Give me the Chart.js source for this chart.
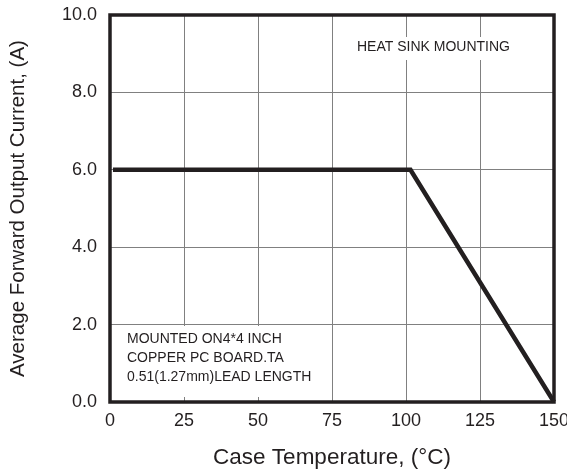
<!DOCTYPE html>
<html>
<head>
<meta charset="utf-8">
<script src="https://cdn.jsdelivr.net/npm/chart.js"></script>
<style>
  html,body{ margin:0; padding:0; background:#fff; }
  #wrap{ width:567px; height:473px; }
</style>
</head>
<body>
<div id="wrap"><canvas id="c" width="567" height="473"></canvas></div>
<script>
// derating curve, case temperature (°C) vs current (A)
const tempC = [1, 101.5, 150];
const currentA = [6, 6, 0];
const xTicks = [0, 25, 50, 75, 100, 125, 150];
const yTicks = [0, 2, 4, 6, 8, 10];
const noteTop = ['HEAT SINK MOUNTING'];
const noteBottom = ['MOUNTED ON4*4 INCH', 'COPPER PC BOARD.TA', '0.51(1.27mm)LEAD LENGTH'];

const ink = '#231f20';
const font = '"Liberation Sans", Arial, sans-serif';

// white boxes with notes, drawn over the grid
const notes = {
  id: 'notes',
  beforeDatasetsDraw(chart){
    const ctx = chart.ctx, a = chart.chartArea;
    ctx.save();
    ctx.fillStyle = '#fff';
    ctx.fillRect(350, 37, 172, 23);
    ctx.fillRect(a.left + 2, 326, 213, a.bottom - 326 - 5);
    ctx.fillStyle = ink;
    ctx.font = '14px ' + font;
    ctx.textBaseline = 'middle';
    ctx.fillText(noteTop[0], 357, 47);
    noteBottom.forEach((t, i) => ctx.fillText(t, 127, 339 + i * 19));
    ctx.restore();
  },
  afterDraw(chart){
    const ctx = chart.ctx, a = chart.chartArea;
    ctx.save();
    ctx.strokeStyle = ink;
    ctx.lineWidth = 3.5;
    ctx.strokeRect(a.left, a.top, a.right - a.left, a.bottom - a.top);
    ctx.restore();
  }
};

new Chart(document.getElementById('c'), {
  type: 'line',
  data: {
    datasets: [{
      data: tempC.map((t, i) => ({ x: t, y: currentA[i] })),
      borderColor: ink,
      borderWidth: 4.5,
      pointRadius: 0,
      tension: 0,
      clip: false
    }]
  },
  options: {
    responsive: false,
    animation: false,
    events: [],
    layout: { padding: { top: 15, right: 13, left: 0, bottom: 0 } },
    plugins: { legend: { display: false }, tooltip: { enabled: false } },
    scales: {
      x: {
        type: 'linear', min: 0, max: 150,
        afterBuildTicks: s => { s.ticks = xTicks.map(v => ({ value: v })); },
        afterFit: s => { s.height = 71; s.paddingLeft = 0; s.paddingRight = 0; },
        grid: { color: '#808080', lineWidth: 1, drawTicks: false },
        border: { display: false },
        ticks: { color: ink, font: { family: font, size: 18 }, padding: 8, maxRotation: 0 },
        title: { display: true, text: 'Case Temperature, (°C)', color: ink,
                 font: { family: font, size: 22.5 }, padding: { top: 4, bottom: 2 } }
      },
      y: {
        type: 'linear', min: 0, max: 10,
        afterBuildTicks: s => { s.ticks = yTicks.map(v => ({ value: v })); },
        afterFit: s => { s.width = 110; s.paddingTop = 0; s.paddingBottom = 0; },
        grid: { color: '#808080', lineWidth: 1, drawTicks: false },
        border: { display: false },
        ticks: { color: ink, font: { family: font, size: 18 }, padding: 13,
                 callback: v => Number(v).toFixed(1) },
        title: { display: true, text: 'Average Forward Output Current, (A)', color: ink,
                 font: { family: font, size: 20.5 }, padding: { top: 6, bottom: 4 } }
      }
    }
  },
  plugins: [notes]
});
</script>
</body>
</html>
